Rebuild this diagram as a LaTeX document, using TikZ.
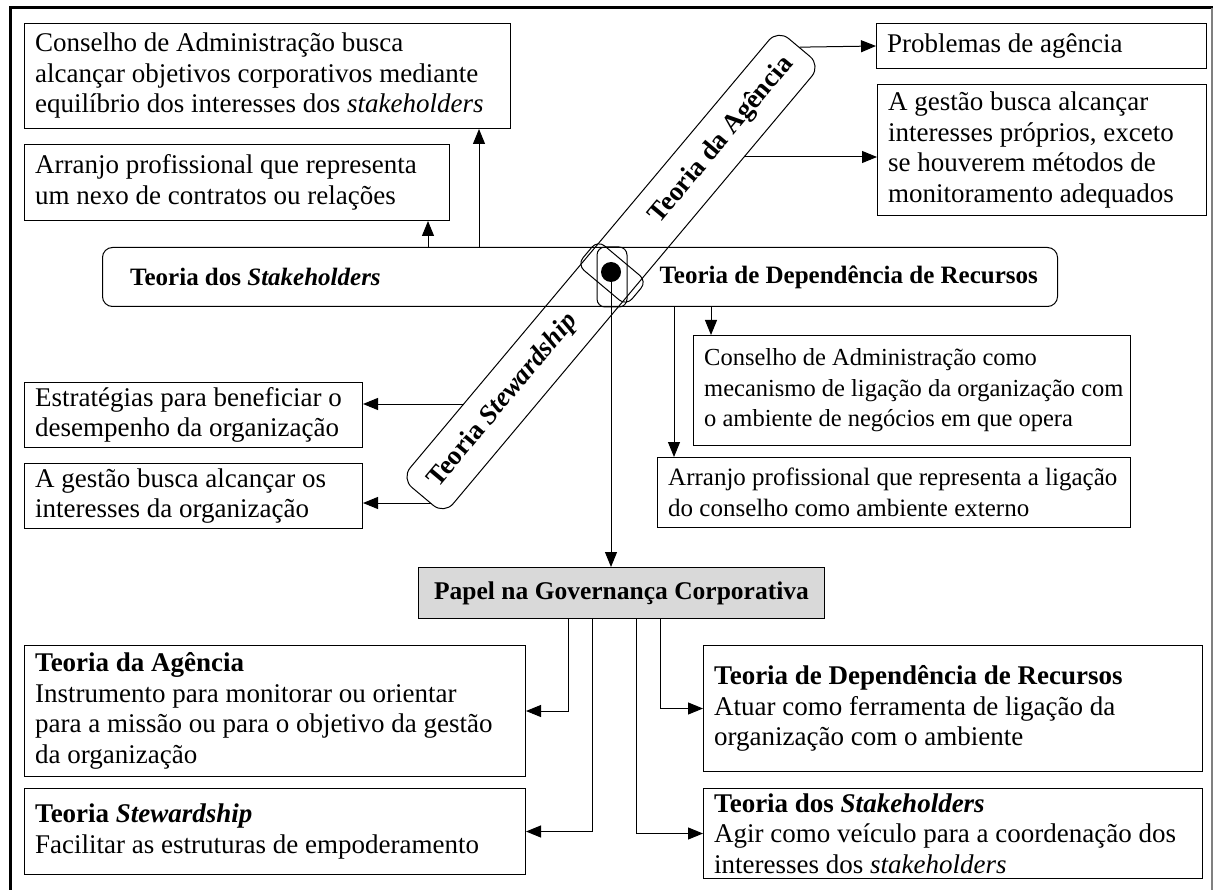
\documentclass[tikz,border=0pt]{standalone}
\usepackage{fontspec}
\setmainfont{Liberation Serif}
\usetikzlibrary{arrows.meta,calc}
\newcommand\fs[1]{\fontsize{#1}{30.5}\selectfont}
% name, x, y, w, h, font size, text
\newcommand\tbox[7]{%
  \node[boxshape, anchor=north west, minimum width=#4, minimum height=#5] (#1) at (#2,#3) {};
  \node[boxtext, font=\fs{#6}] (#1t) at ($(#1.west)+(11,0)$) {#7};}
\begin{document}
\begin{tikzpicture}[x=1pt,y=-1pt,
  boxshape/.style={draw, line width=1pt, inner sep=0pt},
  boxtext/.style={anchor=west, align=left, inner sep=0pt},
  arr/.style={line width=1pt, -{Triangle[length=15pt,width=12pt]}},
  ln/.style={line width=1pt}]
\useasboundingbox (0,0) rectangle (1217,890);
% outer frame
\draw[line width=3pt] (10,890) -- (10,8) -- (1213,8);
\draw[line width=1.2pt, gray] (1212,8) -- (1212,890);

% top-left boxes
\tbox{a1}{24}{23}{486}{105}{27}{Conselho de Administração busca\\alcançar objetivos corporativos mediante\\equilíbrio dos interesses dos \textit{stakeholders}}
\tbox{a2}{24}{144}{425}{76}{27}{Arranjo profissional que representa\\um nexo de contratos ou relações}
% top-right boxes
\tbox{pa}{876}{23}{330}{45}{27}{Problemas de agência}
\tbox{ag}{877}{84}{329}{131}{27}{A gestão busca alcançar\\interesses próprios, exceto\\se houverem métodos de\\monitoramento adequados}
% central horizontal box
\node[boxshape, rounded corners=10pt, anchor=north west, minimum width=955, minimum height=59] (cs) at (102,247) {};
\node[anchor=west, inner sep=0pt, font=\bfseries\fs{25}] (csl) at ($(cs.west)+(28,0)$) {Teoria dos \textit{Stakeholders}};
\node[anchor=east, inner sep=0pt, font=\bfseries\fs{25}] (csr) at ($(cs.east)+(-20,0)$) {Teoria de Dependência de Recursos};
% left boxes
\tbox{l1}{24}{382}{338}{65}{27}{Estratégias para beneficiar o\\desempenho da organização}
\tbox{l2}{24}{463}{338}{65}{27}{A gestão busca alcançar os\\interesses da organização}
% right middle boxes
\tbox{rm1}{693}{335}{437}{110}{24.5}{\fontsize{24.5}{32}\selectfont Conselho de Administração como\\mecanismo de ligação da organização com\\o ambiente de negócios em que opera}
\tbox{rm2}{657}{457}{473}{70}{25}{Arranjo profissional que representa a ligação\\do conselho como ambiente externo}
% gray box
\node[boxshape, fill={rgb,255:red,217;green,217;blue,217}, anchor=north west, minimum width=406, minimum height=51] (gray) at (418,567) {};
\node[inner sep=0pt, font=\bfseries\fs{25.5}] (grayt) at (gray.center) {Papel na Governança Corporativa};
% bottom boxes
\tbox{b1}{24}{645}{501}{131}{27}{\textbf{Teoria da Agência}\\Instrumento para monitorar ou orientar\\para a missão ou para o objetivo da gestão\\da organização}
\tbox{b2}{24}{788}{501}{86}{27}{\textbf{Teoria \textit{Stewardship}}\\Facilitar as estruturas de empoderamento}
\tbox{b3}{703}{645}{499}{126}{27}{\textbf{Teoria de Dependência de Recursos}\\Atuar como ferramenta de ligação da\\organização com o ambiente}
\tbox{b4}{703}{788}{499}{90}{27}{\textbf{Teoria dos \textit{Stakeholders}}\\Agir como veículo para a coordenação dos\\interesses dos \textit{stakeholders}}

% diagonal strip
\node[boxshape, rounded corners=14pt, rotate=50, minimum width=586, minimum height=56] (strip) at (611,272) {};
\node[rotate=50, inner sep=0pt, font=\bfseries\fs{27}] (stA) at ($(strip.center)+(50:172pt)$) {Teoria da Agência};
\node[rotate=50, inner sep=0pt, font=\bfseries\fs{27}] (stS) at ($(strip.center)+(230:168pt)$) {Teoria \textit{Stewardship}};
% central crossing marks
\node[boxshape, rounded corners=8pt, minimum width=30, minimum height=60] (vr) at (612,277) {};
\node[boxshape, rounded corners=9pt, rotate=-40, minimum width=64, minimum height=32] (rr) at (612,273) {};
\node[circle, fill, inner sep=0pt, minimum size=20] (dot) at (611,272) {};

% connectors
\draw[arr] (428,0 |- cs.north) -- (428,0 |- a2.south);
\draw[arr] (479,0 |- cs.north) -- (479,0 |- a1.south);
\draw[arr] (strip.east) -- (pa.west);
\coordinate (sg) at (745,157);
\draw[arr] (sg) -- (ag.west |- sg);
\coordinate (s1) at (464,404);
\draw[arr] (s1) -- (l1.east |- s1);
\coordinate (s2) at (431,503);
\draw[arr] (s2) -- (l2.east |- s2);
\draw[arr] (711,0 |- cs.south) -- (711,0 |- rm1.north);
\draw[arr] (674,0 |- cs.south) -- (674,0 |- rm2.north);
\draw[arr] (dot.center) -- (dot.center |- gray.north);
\draw[arr] (568,0 |- gray.south) |- (b1.east);
\draw[arr] (592,0 |- gray.south) |- (b2.east);
\draw[arr] (660,0 |- gray.south) |- (b3.west);
\draw[arr] (636,0 |- gray.south) |- (b4.west);
\end{tikzpicture}
\end{document}
